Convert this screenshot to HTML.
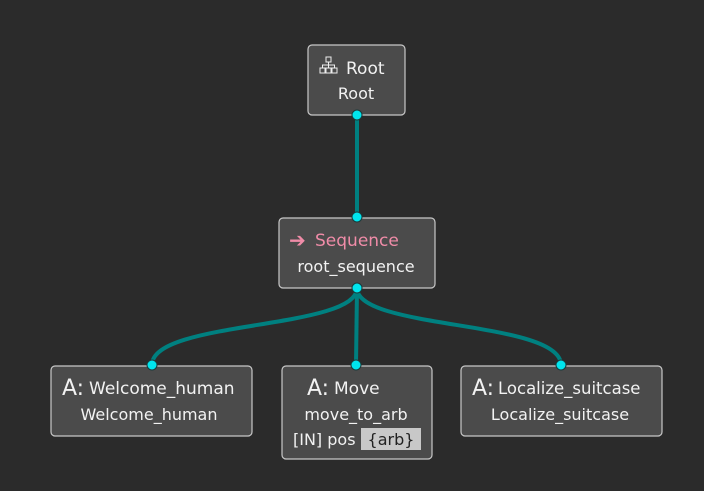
<!DOCTYPE html>
<html><head><style>
html,body{margin:0;padding:0;background:#2b2b2b;}
svg{display:block}
text{font-family:"DejaVu Sans","Liberation Sans",sans-serif;fill:#f2f2f2}
</style></head><body>
<svg width="704" height="491" viewBox="0 0 704 491" xmlns="http://www.w3.org/2000/svg">
<rect width="704" height="491" fill="#2b2b2b"/>
<g stroke="#008080" stroke-width="4" fill="none">
<line x1="357" y1="115" x2="357" y2="217"/>
<path d="M357 288 C357 330,152 320,152 365"/>
<line x1="357" y1="288" x2="356" y2="365"/>
<path d="M357 288 C357 330,561 320,561 365"/>
</g>
<g fill="#4b4b4b" stroke="#c8c8c8" stroke-width="1.2">
<rect x="308" y="45" width="97" height="70" rx="4"/>
<rect x="279" y="218" width="156" height="70" rx="4"/>
<rect x="51" y="366" width="201" height="70" rx="4"/>
<rect x="282" y="366" width="150" height="93" rx="4"/>
<rect x="461" y="366" width="201" height="70" rx="4"/>
</g>
<g stroke="#eee" stroke-width="1" fill="none">
<rect x="326" y="57" width="5" height="5"/>
<rect x="320" y="68" width="5" height="5"/><rect x="326" y="68" width="5" height="5"/><rect x="332" y="68" width="5" height="5"/>
<path d="M328.5 62v3M322.5 68v-3h12v3M328.5 65v3"/>
</g>
<text x="346" y="74" style="font-size:17px">Root</text>
<text x="356" y="99" text-anchor="middle" style="font-size:16px">Root</text>
<text x="289" y="247" style="font-size:20px;fill:#f08ca8">➔</text>
<text x="315" y="246" style="font-size:17px;fill:#f08ca8">Sequence</text>
<text x="356" y="272" text-anchor="middle" style="font-size:16px">root_sequence</text>
<text x="62" y="395" style="font-size:22px">A:</text><text x="89" y="394" style="font-size:17px">Welcome_human</text>
<text x="149" y="420" text-anchor="middle" style="font-size:16px">Welcome_human</text>
<text x="307" y="395" style="font-size:22px">A:</text><text x="334" y="394" style="font-size:17px">Move</text>
<text x="356" y="420" text-anchor="middle" style="font-size:16px">move_to_arb</text>
<text x="293" y="445" style="font-size:16px">[IN] pos</text>
<rect x="361" y="428" width="60" height="22" fill="#c8c8c8"/>
<text x="391" y="445" text-anchor="middle" style="font-size:16px;fill:#222">{arb}</text>
<text x="472" y="395" style="font-size:22px">A:</text><text x="498" y="394" style="font-size:16.5px">Localize_suitcase</text>
<text x="560" y="420" text-anchor="middle" style="font-size:16px">Localize_suitcase</text>
<g fill="#00e5ee" stroke="#1a3a3a" stroke-width="1">
<circle cx="357" cy="115" r="5"/><circle cx="357" cy="217" r="5"/><circle cx="357" cy="288" r="5"/>
<circle cx="152" cy="365" r="5"/><circle cx="356" cy="365" r="5"/><circle cx="561" cy="365" r="5"/>
</g>
</svg>
</body></html>
